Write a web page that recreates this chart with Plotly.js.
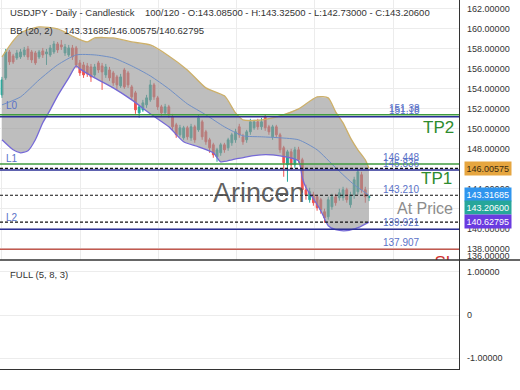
<!DOCTYPE html>
<html><head><meta charset="utf-8">
<script src="https://cdn.plot.ly/plotly-3.0.1.min.js"></script>
<style>html,body{margin:0;padding:0;background:#fff;} #chart{width:520px;height:390px;}</style>
</head><body><div id="chart"></div>
<script>
// ---------- DATA ----------
const headerLeft = 'USDJPY - Daily - Candlestick';
const headerRight = '100/120 - O:143.08500 - H:143.32500 - L:142.73000 - C:143.20600';
const bbName = 'BB (20, 2)';
const bbLast = [143.31685, 146.00575, 140.62795]; // middle / upper / lower
const oscName = 'FULL (5, 8, 3)';
const lastClose = 143.206;

const candleOpen = [153.37,155.07,157.67,157.27,157.07,157.17,157.37,157.97,157.67,157.57,
157.17,157.77,157.47,157.37,157.67,158.47,158.37,157.57,157.37,158.07,
158.07,156.57,156.37,156.27,156.17,155.37,156.57,156.27,155.37,155.87,
155.57,155.17,154.27,155.87,155.57,154.17,153.57,151.57,151.87,152.37,
152.87,154.37,153.07,152.17,151.57,152.17,151.17,150.37,149.37,149.07,
150.07,149.07,150.17,149.87,150.67,149.67,148.87,148.37,147.17,147.57,
148.37,148.07,148.57,148.87,150.17,149.17,148.87,149.67,150.07,150.67,
150.17,151.17,150.17,149.17,150.17,149.37,148.07,146.37,147.67,146.37,
147.87,146.87,143.87,142.87,143.37,143.17,142.87,141.67,141.17,142.17,
143.17,143.07,143.07,143.87,142.37,143.37,143.67,145.37,143.87,143.085];
const candleHigh = [155.17,157.97,157.87,157.47,157.87,157.97,158.17,158.27,157.87,157.77,
157.87,158.07,157.97,158.37,158.77,158.67,158.87,158.47,158.37,158.37,
158.27,156.87,156.67,156.57,156.47,156.47,156.77,156.57,156.47,156.17,
155.77,155.37,155.47,156.07,155.77,154.37,153.77,152.37,152.87,153.37,
154.87,154.57,153.27,152.37,152.47,152.37,151.47,150.57,150.37,150.27,
150.27,150.47,150.37,151.37,150.87,149.87,149.07,148.57,148.07,148.57,
148.57,149.07,149.57,149.97,150.47,149.47,149.87,150.97,150.87,150.97,
151.07,151.37,150.37,150.37,150.37,149.57,148.27,147.87,147.97,148.17,
148.17,147.07,144.37,144.07,143.67,143.37,143.07,141.97,143.17,143.47,
143.47,143.97,144.17,144.07,143.67,145.17,145.87,145.67,144.17,143.325];
const candleLow = [153.07,154.87,156.37,156.47,156.87,156.97,157.17,156.87,156.57,156.37,
156.97,157.07,156.37,157.17,157.47,157.57,157.87,157.27,157.17,156.87,
156.07,155.27,155.07,155.17,154.67,155.17,155.57,153.87,155.07,154.77,
154.27,153.87,154.07,153.97,154.07,152.87,151.47,151.07,151.67,152.07,
152.67,152.87,151.87,151.27,151.37,151.07,149.87,149.07,149.17,148.87,
148.87,148.77,148.57,149.67,148.87,148.37,147.57,147.07,146.67,147.27,
147.57,147.77,148.27,148.57,149.07,148.37,148.57,149.37,149.87,149.87,
149.87,149.77,149.37,148.87,149.07,147.57,145.17,144.67,145.87,146.07,
146.57,143.57,142.87,142.57,142.27,141.77,141.47,140.57,140.87,141.87,
142.27,142.77,142.77,142.57,142.07,142.97,143.37,143.57,142.57,142.73];
const candleClose = [154.87,157.67,156.67,156.67,157.57,157.67,157.87,157.17,156.87,156.57,
157.67,157.37,157.67,158.07,158.47,157.87,158.17,158.17,158.07,157.17,
156.37,155.57,155.37,155.47,155.17,156.17,155.87,155.67,156.17,155.07,
154.57,154.37,155.17,154.17,154.37,153.17,151.87,152.17,152.57,153.07,
154.37,153.17,152.17,151.57,152.17,151.37,150.17,149.37,150.07,150.07,
149.17,150.17,148.87,151.07,149.17,148.67,148.07,147.37,147.87,148.37,
147.87,148.87,149.37,149.67,149.37,148.67,149.67,150.67,150.67,150.17,
150.67,150.07,149.67,150.17,149.37,147.87,146.57,147.67,146.37,147.87,
146.87,143.87,143.37,143.67,142.57,142.07,141.87,141.07,142.87,143.17,
142.57,143.57,143.87,142.87,143.37,144.87,145.67,143.87,143.17,143.206];

// Bollinger band values (candle index -> price)
const bbUpperIdx = [0,3,5,10,15,20,23,25,30,35,40,45,50,55,60,63,65,70,75,80,85,88,90,92,94,96,98,99];
const bbUpper    = [157.17,158.77,159.57,160.17,159.97,159.07,158.67,159.07,159.07,158.67,158.37,157.27,155.87,154.07,153.27,151.57,150.87,150.87,151.27,151.97,153.17,153.07,151.67,150.57,149.07,147.87,146.87,146.00575];
const bbMidIdx = [0,5,10,15,20,25,30,35,40,45,50,55,60,65,70,75,80,85,90,95,99];
const bbMid    = [152.37,153.17,154.87,156.37,157.37,157.37,157.07,156.27,155.27,153.97,152.47,151.37,150.17,149.27,149.17,149.07,148.87,147.87,146.07,144.37,143.31685];
const bbLowerIdx = [0,3,5,7,9,11,13,15,18,20,21,25,30,35,40,45,49,53,57,59,62,66,70,75,80,81,82,84,86,88,90,93,96,99];
const bbLower    = [148.87,147.87,147.57,147.77,148.87,150.57,151.87,153.27,155.07,156.27,155.97,155.07,154.07,152.87,151.47,150.17,148.67,148.17,147.57,146.67,146.87,147.17,147.37,147.27,146.77,145.07,144.07,142.97,141.77,140.27,139.87,139.77,140.07,140.62795];

// trade levels
const levelNames  = ['TP2','L0','TP1','L1','L2','SL'];
const levelValues = [151.38,151.18,146.448,145.836,139.921,137.907];
const levelText   = ['151.38','151.18','146.448','145.836','139.921','137.907'];
const entryValue = 143.210;
const entryText = '143.210';

const oscTickVals = [-1,0,1];
const oscTickText = ['-1.00000','0','1.00000'];
const bottomPriceLabel = '136.00000';

// ---------- LAYOUT HELPERS ----------
const W=520,H=390,ML=0,MR=61,MT=0,MB=21;
const PW=W-ML-MR, PH=H-MT-MB;
const fx = px => (px-ML)/PW;
const fy = py => 1-(py-MT)/PH;
const split = fy(260);
const xRange = [-0.54, 123.28];
const yRange = [136.835, 162.869];
const pxPerUnit = 260/(yRange[1]-yRange[0]);
const candleIdx = candleOpen.map((_,i)=>i);

const TEAL='#26a69a', RED='#ef5350';
const GREEN='#3f9b3f', NAVY='#2b2f96', SLRED='#c2594f', LBLUE='#5a72c8';
const FONT='"Liberation Sans", Arial, sans-serif';

const traces = [];
traces.push({type:'scatter', mode:'lines',
  x: bbUpperIdx.concat(bbLowerIdx.slice().reverse()),
  y: bbUpper.concat(bbLower.slice().reverse()),
  fill:'toself', fillcolor:'rgba(150,150,150,0.62)', line:{width:0}, hoverinfo:'skip', xaxis:'x', yaxis:'y'});
traces.push({type:'scatter', mode:'lines', x:bbUpperIdx, y:bbUpper, line:{color:'#cdb06a', width:1.3, shape:'spline', smoothing:0.6}, hoverinfo:'skip'});
traces.push({type:'scatter', mode:'lines', x:bbLowerIdx, y:bbLower, line:{color:'#7569d6', width:1.3, shape:'spline', smoothing:0.6}, hoverinfo:'skip'});
traces.push({type:'scatter', mode:'lines', x:bbMidIdx, y:bbMid, line:{color:'#6f8fc6', width:1, shape:'spline', smoothing:0.6}, hoverinfo:'skip'});
traces.push({type:'candlestick', x:candleIdx, open:candleOpen, high:candleHigh, low:candleLow, close:candleClose,
  increasing:{line:{color:TEAL, width:1}, fillcolor:TEAL},
  decreasing:{line:{color:RED, width:1}, fillcolor:RED},
  whiskerwidth:0, hoverinfo:'skip', xaxis:'x', yaxis:'y'});
// SL label, placed a few px under its line and clipped by the price panel
traces.push({type:'scatter', mode:'text', x:[xRange[1]-1.0], y:[levelValues[5]-6/pxPerUnit], text:['SL'], textposition:'bottom left',
  textfont:{family:FONT, size:17, color:'#d03030'}, cliponaxis:true, hoverinfo:'skip', xaxis:'x', yaxis:'y'});
traces.push({type:'scatter', mode:'lines', x:[], y:[], xaxis:'x2', yaxis:'y2', hoverinfo:'skip'});

const shapes = [];
const levelColors = [GREEN, NAVY, GREEN, NAVY, NAVY, SLRED];
levelValues.forEach((v,k)=>{
  shapes.push({type:'line', xref:'paper', x0:0, x1:1, yref:'y', y0:v, y1:v, line:{color:levelColors[k], width:1.5}});
});
bbLast.forEach(v=>{
  shapes.push({type:'line', xref:'paper', x0:0, x1:1, yref:'y', y0:v, y1:v, line:{color:'#111', width:1.2, dash:'3px,2px'}});
});
shapes.push({type:'line', xref:'paper', x0:0, x1:W/PW, yref:'paper', y0:split, y1:split, line:{color:'#333', width:1.3}});

const ann = [];
const txt = (text, px, py, opts={}) => Object.assign({text, xref:'paper', yref:'paper', x:fx(px), y:fy(py),
  xanchor:'left', yanchor:'middle', showarrow:false, font:{family:FONT, size:9.5, color:'#333'}}, opts);
ann.push(txt(headerLeft, 8, 13));
ann.push(txt(headerRight, 143, 13));
ann.push(txt(bbName, 8, 30));
ann.push(txt(bbLast.join('/'), 62, 30));
ann.push(txt(oscName, 8, 274));
ann.push(txt('Arincen', 259, 193, {xanchor:'center', font:{family:FONT, size:27, color:'rgba(70,70,70,0.85)'}}));
ann.push(txt(bottomPriceLabel, 465, 256, {font:{family:FONT, size:9, color:'#333'}}));

// value labels on the right
levelValues.forEach((v,k)=>{
  ann.push({text:levelText[k], xref:'paper', x:fx(422), xanchor:'right', yref:'y', y:v, yanchor:'bottom', yshift:-1,
    showarrow:false, font:{family:FONT, size:10, color:LBLUE}});
});
ann.push({text:entryText, xref:'paper', x:fx(422), xanchor:'right', yref:'y', y:entryValue, yanchor:'bottom', yshift:-1,
  showarrow:false, font:{family:FONT, size:10, color:LBLUE}});
// L labels on the left
[1,3,4].forEach(k=>{
  ann.push({text:levelNames[k], xref:'paper', x:fx(4), xanchor:'left', yref:'y', y:levelValues[k], yanchor:'bottom', yshift:4,
    showarrow:false, font:{family:FONT, size:10, color:LBLUE}});
});
// big labels
ann.push({text:levelNames[0], xref:'paper', x:fx(456), xanchor:'right', yref:'y', y:levelValues[0], yanchor:'top', yshift:-1,
  showarrow:false, font:{family:FONT, size:17, color:'#2e8b2e'}});
ann.push({text:levelNames[2], xref:'paper', x:fx(454), xanchor:'right', yref:'y', y:levelValues[2], yanchor:'top', yshift:-3,
  showarrow:false, font:{family:FONT, size:17, color:'#2e8b2e'}});
ann.push({text:'At Price', xref:'paper', x:fx(455), xanchor:'right', yref:'y', y:entryValue, yanchor:'top', yshift:-2,
  showarrow:false, font:{family:FONT, size:16, color:'#8c8c8c'}});

// price boxes on the axis
const box = (v, text, bg, fg, yshift) => ({text, xref:'paper', x:fx(464), xanchor:'left', yref:'y', y:v, yanchor:'middle', yshift,
  showarrow:false, bgcolor:bg, borderpad:1.5, font:{family:FONT, size:9, color:fg}});
ann.push(box(bbLast[1], bbLast[1].toFixed(5), '#e6a640', '#3a2a10', 0));
ann.push(box(bbLast[0], bbLast[0].toFixed(5), '#2f95ee', '#fff', 1));
ann.push(box(lastClose, lastClose.toFixed(5), '#26a69a', '#fff', -11));
ann.push(box(bbLast[2], bbLast[2].toFixed(5), '#6a3be0', '#fff', 1));

const layout = {
  width:W, height:H, margin:{l:ML, r:MR, t:MT, b:MB}, paper_bgcolor:'#fff', plot_bgcolor:'#fff',
  showlegend:false, dragmode:false,
  xaxis:{domain:[0,1], range:xRange, anchor:'y', showticklabels:false, ticks:'', showgrid:true, gridcolor:'#ececec',
    tick0:-0.08, dtick:21.12, zeroline:false, showline:false, rangeslider:{visible:false}, fixedrange:true},
  yaxis:{domain:[split,1], range:yRange, side:'right', anchor:'x', dtick:2, tick0:0, tickformat:'.5f',
    showgrid:true, gridcolor:'#ececec', zeroline:false, showline:true, linecolor:'#333', linewidth:1.3, ticks:'',
    ticklabelstandoff:5, tickfont:{family:FONT, size:9, color:'#333'}, fixedrange:true},
  xaxis2:{domain:[0,1], range:xRange, anchor:'y2', showticklabels:false, ticks:'', showgrid:false, zeroline:false,
    showline:true, linecolor:'#333', linewidth:1.3, fixedrange:true},
  yaxis2:{domain:[0,split], range:[-1.247,1.27], side:'right', anchor:'x2', tickvals:oscTickVals, ticktext:oscTickText,
    showgrid:true, gridcolor:'#ececec', zeroline:false, showline:true, linecolor:'#333', linewidth:1.3, ticks:'',
    ticklabelstandoff:5, tickfont:{family:FONT, size:9, color:'#333'}, fixedrange:true},
  shapes, annotations:ann
};
Plotly.newPlot('chart', traces, layout, {staticPlot:true, displayModeBar:false});
</script></body></html>
